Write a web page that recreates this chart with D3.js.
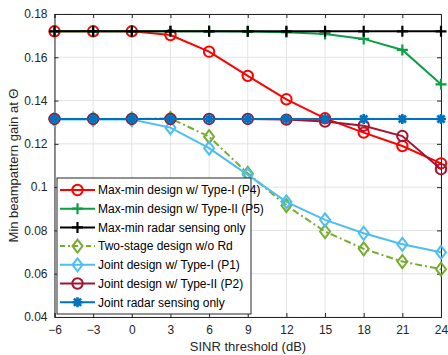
<!DOCTYPE html>
<html><head><meta charset="utf-8">
<script src="https://cdn.jsdelivr.net/npm/d3@7"></script>
<style>body{margin:0;background:#fff}svg{display:block;font-family:"Liberation Sans",Arial,sans-serif}</style>
</head><body><svg id="c" width="448" height="355"></svg>
<script>
const xTicks = [-6,-3,0,3,6,9,12,15,18,21,24];
const yTicks = [0.04,0.06,0.08,0.1,0.12,0.14,0.16,0.18];
const yTickLabels = ["0.04","0.06","0.08","0.1","0.12","0.14","0.16","0.18"];
const snr = [-6,-3,0,3,6,9,12,15,18,21,24];
const maxminType1 = [0.172,0.172,0.172,0.1703,0.1626,0.1514,0.1406,0.1318,0.1252,0.119,0.111];
const maxminType2 = [0.172,0.172,0.172,0.172,0.172,0.1719,0.1716,0.1708,0.1685,0.1634,0.1475];
const maxminRadar = [0.172,0.172,0.172,0.172,0.172,0.172,0.172,0.172,0.172,0.172,0.172];
const twoStage = [0.1315,0.1315,0.1315,0.1318,0.1233,0.1064,0.0915,0.0795,0.0715,0.0656,0.0621];
const jointType1 = [0.1312,0.1312,0.1312,0.1275,0.118,0.1057,0.0932,0.0849,0.0787,0.0736,0.0699];
const jointType2 = [0.1315,0.1315,0.1315,0.1315,0.1315,0.1315,0.1312,0.1303,0.1284,0.1236,0.1083];
const jointRadar = [0.1315,0.1315,0.1315,0.1315,0.1315,0.1315,0.1315,0.1315,0.1315,0.1315,0.1315];
const seriesNames = ["Max-min design w/ Type-I (P4)","Max-min design w/ Type-II (P5)","Max-min radar sensing only","Two-stage design w/o Rd","Joint design w/ Type-I (P1)","Joint design w/ Type-II (P2)","Joint radar sensing only"];

const series = [
  {name:seriesNames[0], v:maxminType1, color:"#ff0000", marker:"circle", dash:null},
  {name:seriesNames[1], v:maxminType2, color:"#0a9e45", marker:"plus", dash:null},
  {name:seriesNames[2], v:maxminRadar, color:"#000000", marker:"plus", dash:null},
  {name:seriesNames[3], v:twoStage, color:"#77ac30", marker:"diamond", dash:"7,3,2,3"},
  {name:seriesNames[4], v:jointType1, color:"#4dbeee", marker:"diamond", dash:null},
  {name:seriesNames[5], v:jointType2, color:"#a2142f", marker:"circle", dash:null},
  {name:seriesNames[6], v:jointRadar, color:"#0072bd", marker:"star", dash:null}
];

const svg = d3.select("#c");
const L=54.5, R=441, T=14, B=317;
const x = d3.scaleLinear().domain([-6,24]).range([L,R]);
const y = d3.scaleLinear().domain([0.04,0.18]).range([B,T]);

// grid
const g = svg.append("g");
g.selectAll(".vg").data(xTicks).join("line").attr("x1",d=>x(d)).attr("x2",d=>x(d)).attr("y1",T).attr("y2",B).attr("stroke","#e3e3e3").attr("stroke-width",1);
g.selectAll(".hg").data(yTicks).join("line").attr("y1",d=>y(d)).attr("y2",d=>y(d)).attr("x1",L).attr("x2",R).attr("stroke","#e3e3e3").attr("stroke-width",1);

// axes
const axB = d3.axisBottom(x).tickValues(xTicks).tickSize(-4).tickPadding(8).tickFormat(d3.format("d"));
const axL = d3.axisLeft(y).tickValues(yTicks).tickSize(-4).tickPadding(7).tickFormat((d,i)=>yTickLabels[i]);
const axT = d3.axisTop(x).tickValues(xTicks).tickSize(-4).tickFormat("");
const axR = d3.axisRight(y).tickValues(yTicks).tickSize(-4).tickFormat("");
function style(sel){sel.select(".domain").attr("stroke","#262626");sel.selectAll(".tick line").attr("stroke","#262626");sel.selectAll("text").attr("fill","#262626").attr("font-size","12px").attr("font-family","'Liberation Sans',Arial,sans-serif");}
svg.append("g").attr("transform",`translate(0,${B})`).call(axB).call(style);
svg.append("g").attr("transform",`translate(${L},0)`).call(axL).call(style);
svg.append("g").attr("transform",`translate(0,${T})`).call(axT).call(style);
svg.append("g").attr("transform",`translate(${R},0)`).call(axR).call(style);

// labels
svg.append("text").attr("x",248).attr("y",351).attr("text-anchor","middle").attr("font-size","13px").attr("fill","#262626").text("SINR threshold (dB)");
svg.append("text").attr("transform",`translate(18,${(T+B)/2}) rotate(-90)`).attr("text-anchor","middle").attr("font-size","13px").attr("fill","#262626").text("Min beampattern gain at Θ");

function drawMarker(sel, type, color){
  if(type==="circle"){
    sel.append("circle").attr("r",5.2).attr("fill","none").attr("stroke",color).attr("stroke-width",2);
  } else if(type==="plus"){
    sel.append("path").attr("d","M-5.5,0H5.5M0,-5.5V5.5").attr("stroke",color).attr("stroke-width",2.2).attr("fill","none");
  } else if(type==="diamond"){
    sel.append("path").attr("d","M0,-6.5L5,0L0,6.5L-5,0Z").attr("fill","none").attr("stroke",color).attr("stroke-width",2);
  } else if(type==="star"){
    sel.append("path").attr("d","M-5,0H5M0,-5V5M-3.6,-3.6L3.6,3.6M-3.6,3.6L3.6,-3.6").attr("stroke",color).attr("stroke-width",2.6).attr("fill","none");
    sel.append("circle").attr("r",2.5).attr("fill",color);
  }
}

const line = d3.line().x((d,i)=>x(snr[i])).y(d=>y(d));
const plot = svg.append("g");
series.forEach(s=>{
  const gg = plot.append("g");
  gg.append("path").attr("d",line(s.v)).attr("fill","none").attr("stroke",s.color).attr("stroke-width",2).attr("stroke-dasharray",s.dash);
  s.v.forEach((v,i)=>{
    const m = gg.append("g").attr("transform",`translate(${x(snr[i])},${y(v)})`);
    drawMarker(m,s.marker,s.color);
  });
});

// legend
const lg = svg.append("g");
const lx=57, ly=178, lw=194, lh=136, rowH=18.7;
lg.append("rect").attr("x",lx).attr("y",ly).attr("width",lw).attr("height",lh).attr("fill","#fff").attr("stroke","#262626").attr("stroke-width",1);
series.forEach((s,i)=>{
  const cy = ly+12+i*rowH;
  lg.append("line").attr("x1",lx+3).attr("x2",lx+38).attr("y1",cy).attr("y2",cy).attr("stroke",s.color).attr("stroke-width",2).attr("stroke-dasharray",s.dash?"5,3,2,3":null);
  const m = lg.append("g").attr("transform",`translate(${lx+20.5},${cy})`);
  drawMarker(m,s.marker,s.color);
  lg.append("text").attr("x",lx+41).attr("y",cy+4.3).attr("font-size","12px").attr("fill","#000").text(s.name);
});
</script></body></html>
